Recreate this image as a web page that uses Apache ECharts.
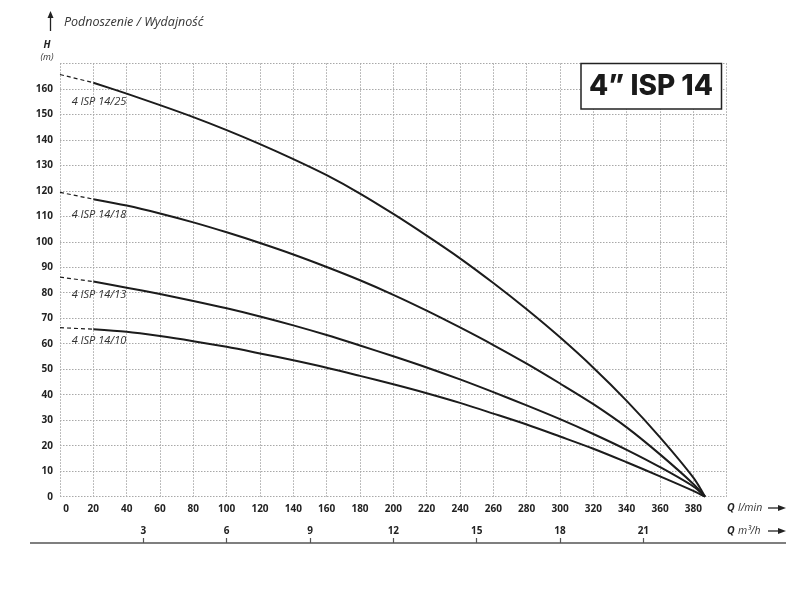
<!DOCTYPE html>
<html><head><meta charset="utf-8">
<script src="https://cdn.jsdelivr.net/npm/echarts@6/dist/echarts.min.js"></script>
<style>html,body{margin:0;padding:0;background:#fff}#c{width:808px;height:616px}</style>
</head><body><div id="c"></div>
<script>
// Flow Q (l/min) for solid curves
const qSolid = [20,40,60,80,100,120,140,160,180,200,220,240,260,280,300,320,340,360,380,387];
// Dashed start segments (Q = 0 .. 20)
const qDash = [0,20];
const seriesNames = ['4 ISP 14/25','4 ISP 14/18','4 ISP 14/13','4 ISP 14/10'];
const h25 = [162.4,158.1,153.6,148.9,143.8,138.3,132.4,126.1,118.9,110.9,102.4,93.5,83.8,73.5,62.5,50.6,37.6,23.3,7.5,0];
const h18 = [116.7,114.2,111.1,107.6,103.7,99.5,95.0,90.1,84.9,79.2,73.0,66.4,59.5,52.2,44.4,36.3,27.2,16.6,5.0,0];
const h13 = [84.4,82.0,79.5,76.8,73.9,70.7,67.2,63.4,59.3,55.1,50.7,46.0,41.0,35.8,30.4,24.6,18.4,11.6,4.0,0];
const h10 = [65.7,64.7,63.0,61.0,58.8,56.2,53.5,50.6,47.4,44.1,40.6,36.8,32.6,28.3,23.6,18.8,13.5,8.0,2.3,0];
const hStart = [165.6,119.4,86.1,66.3];
// Curve label anchor positions (Q, H)
const labelQ = [7,7,7,7];
const labelH = [155,110.5,79,61.3];
// Tick labels
const m3hTicks = [3,6,9,12,15,18,21];

const curves = [h25,h18,h13,h10];
const series = [];
curves.forEach((h,i)=>{
  series.push({
    type:'line', name:seriesNames[i], smooth:0.3, symbol:'none',
    data: qSolid.map((q,j)=>[q,h[j]]),
    lineStyle:{color:'#1c1c1c',width:2},
    markPoint:{
      symbol:'circle', symbolSize:0, silent:true,
      data:[{coord:[labelQ[i],labelH[i]],
        label:{show:true,position:'right',distance:0,formatter:seriesNames[i],
          fontFamily:'Open Sans',fontStyle:'italic',fontSize:11,color:'#333'}}]
    }
  });
  series.push({
    type:'line', symbol:'none',
    data: qDash.map((q,j)=> [q, j===0 ? hStart[i] : h[0]]),
    lineStyle:{color:'#1c1c1c',width:1.2,type:[4,3]}
  });
});

const chart = echarts.init(document.getElementById('c'));
const txt = '#222';
chart.setOption({
  animation:false,
  backgroundColor:'#fff',
  grid:{left:60,right:81.3,top:63.3,bottom:119.3,containLabel:false,outerBoundsMode:'none'},
  xAxis:[{
    type:'value',min:0,max:400,interval:20,
    axisLine:{show:false},axisTick:{show:false},
    axisLabel:{color:txt,fontFamily:'Open Sans',fontWeight:'bold',fontSize:10,margin:7,
      formatter:v=> v===400?'':(v===0?'{z|0}':String(v)),
      rich:{z:{padding:[0,0,0,12],fontFamily:'Open Sans',fontWeight:'bold',fontSize:10,color:txt}}},
    splitLine:{show:true,lineStyle:{color:'#a8a8a8',type:[1.5,1.5],width:1}}
  },{
    type:'value',min:0,max:24,interval:3,position:'bottom',offset:46.3,
    axisLine:{show:false},
    axisTick:{show:true,inside:true,length:5,lineStyle:{color:'#555',width:1.2},customValues:m3hTicks},
    axisLabel:{inside:true,margin:7,color:txt,fontFamily:'Open Sans',fontWeight:'bold',fontSize:10,customValues:m3hTicks},
    splitLine:{show:false}
  }],
  yAxis:{
    type:'value',min:0,max:170,interval:10,
    axisLine:{show:false},axisTick:{show:false},
    axisLabel:{color:txt,fontFamily:'Open Sans',fontWeight:'bold',fontSize:10,margin:7,
      formatter:v=> v===170?'':String(v)},
    splitLine:{show:true,lineStyle:{color:'#a8a8a8',type:[1.5,1.5],width:1}}
  },
  series: series,
  graphic:[
    {type:'line',shape:{x1:30,y1:543,x2:786,y2:543},style:{stroke:'#555',lineWidth:1.5},z:10},
    {type:'line',shape:{x1:50.5,y1:31,x2:50.5,y2:17},style:{stroke:'#222',lineWidth:1.3}},
    {type:'polygon',shape:{points:[[47.5,18],[50.5,11],[53.5,18]]},style:{fill:'#222'}},
    {type:'text',left:64,top:16,style:{text:'Podnoszenie / Wydajność',fontFamily:'Open Sans',fontStyle:'italic',fontSize:12.5,fill:'#333'}},
    {type:'text',x:47,y:45,style:{text:'H',fontFamily:'Open Sans',fontStyle:'italic',fontWeight:'bold',fontSize:10,fill:txt,align:'center',verticalAlign:'middle'}},
    {type:'text',x:47,y:57,style:{text:'(m)',fontFamily:'Open Sans',fontStyle:'italic',fontSize:9,fill:'#333',align:'center',verticalAlign:'middle'}},
    {type:'text',x:727,y:508,style:{rich:{q:{fontFamily:'Open Sans',fontStyle:'italic',fontWeight:'bold',fontSize:10.5,fill:txt},u:{fontFamily:'Open Sans',fontStyle:'italic',fontSize:10.5,fill:'#333'}},text:'{q|Q} {u|l/min}',verticalAlign:'middle'}},
    {type:'line',shape:{x1:768,y1:508,x2:780,y2:508},style:{stroke:'#222',lineWidth:1.3}},
    {type:'polygon',shape:{points:[[778,505],[786,508],[778,511]]},style:{fill:'#222'}},
    {type:'text',x:727,y:531,style:{rich:{q:{fontFamily:'Open Sans',fontStyle:'italic',fontWeight:'bold',fontSize:10.5,fill:txt},u:{fontFamily:'Open Sans',fontStyle:'italic',fontSize:10.5,fill:'#333'}},text:'{q|Q} {u|m³/h}',verticalAlign:'middle'}},
    {type:'line',shape:{x1:768,y1:531,x2:780,y2:531},style:{stroke:'#222',lineWidth:1.3}},
    {type:'polygon',shape:{points:[[778,528],[786,531],[778,534]]},style:{fill:'#222'}},
    {type:'rect',shape:{x:581,y:63.5,width:140.5,height:45.5},style:{fill:'#fff',stroke:'#222',lineWidth:1.5},z:20},
    {type:'text',x:651,y:87,z:21,style:{text:'4” ISP 14',fontFamily:'Inter',fontWeight:800,fontSize:28,fill:'#1a1a1a',align:'center',verticalAlign:'middle'}}
  ]
});
</script></body></html>
